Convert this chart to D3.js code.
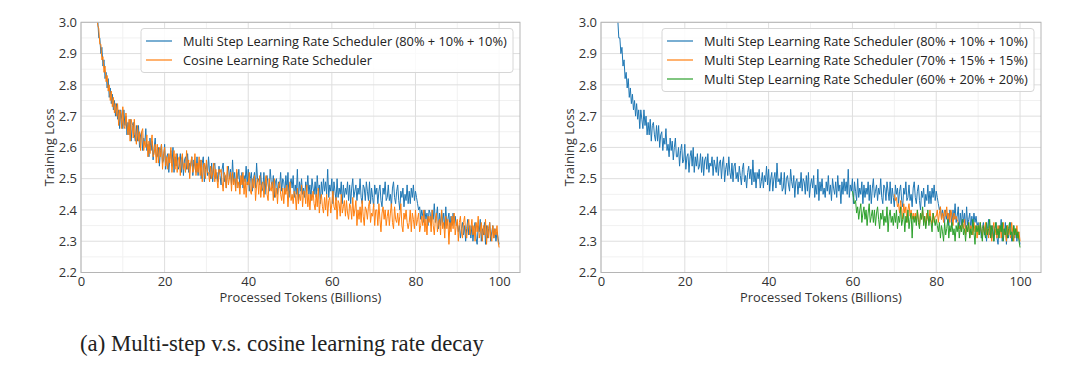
<!DOCTYPE html>
<html>
<head>
<meta charset="utf-8">
<script src="https://cdn.jsdelivr.net/npm/d3@7/dist/d3.min.js"></script>
<style>
  body { margin: 0; background: #fff; }
  svg { display: block; font-family: "Open Sans", sans-serif; }
</style>
</head>
<body>
<svg class="mz-chart" width="1080" height="372"></svg>
<script>
// training loss, one reading every 0.25B tokens
const step = 0.25;

const multiStep80Start = 3.5;
const multiStep80 = [
  3.09, 3.03, 3.01, 2.95, 2.95, 2.90, 2.92, 2.86, 2.88, 2.82, 2.84, 2.79, 2.82, 2.76, 2.79, 2.74, 2.77, 2.72, 2.75, 2.70,
  2.74, 2.69, 2.72, 2.66, 2.72, 2.69, 2.66, 2.72, 2.67, 2.70, 2.64, 2.68, 2.64, 2.69, 2.62, 2.67, 2.68, 2.64, 2.62, 2.67,
  2.62, 2.67, 2.60, 2.64, 2.65, 2.59, 2.63, 2.61, 2.66, 2.59, 2.61, 2.57, 2.63, 2.59, 2.62, 2.56, 2.60, 2.63, 2.57, 2.57,
  2.60, 2.54, 2.59, 2.61, 2.55, 2.56, 2.61, 2.53, 2.57, 2.58, 2.52, 2.57, 2.59, 2.54, 2.60, 2.52, 2.57, 2.54, 2.58, 2.53,
  2.54, 2.58, 2.52, 2.57, 2.51, 2.56, 2.57, 2.53, 2.58, 2.52, 2.55, 2.54, 2.57, 2.51, 2.56, 2.54, 2.52, 2.57, 2.51, 2.55,
  2.56, 2.50, 2.55, 2.57, 2.49, 2.53, 2.55, 2.51, 2.57, 2.52, 2.50, 2.55, 2.49, 2.54, 2.55, 2.50, 2.52, 2.49, 2.54, 2.51,
  2.48, 2.53, 2.55, 2.49, 2.51, 2.47, 2.52, 2.54, 2.50, 2.53, 2.48, 2.56, 2.49, 2.52, 2.47, 2.52, 2.50, 2.53, 2.47, 2.49,
  2.52, 2.47, 2.51, 2.49, 2.54, 2.48, 2.53, 2.46, 2.50, 2.52, 2.46, 2.50, 2.52, 2.47, 2.55, 2.49, 2.50, 2.48, 2.52, 2.46,
  2.47, 2.52, 2.45, 2.50, 2.51, 2.48, 2.46, 2.53, 2.49, 2.47, 2.51, 2.44, 2.49, 2.50, 2.45, 2.49, 2.47, 2.52, 2.46, 2.50,
  2.49, 2.45, 2.51, 2.46, 2.52, 2.44, 2.48, 2.50, 2.47, 2.51, 2.44, 2.48, 2.45, 2.53, 2.43, 2.49, 2.46, 2.50, 2.45, 2.47,
  2.44, 2.49, 2.46, 2.51, 2.45, 2.48, 2.43, 2.50, 2.47, 2.45, 2.49, 2.44, 2.51, 2.46, 2.48, 2.42, 2.49, 2.45, 2.50, 2.46,
  2.49, 2.45, 2.53, 2.44, 2.48, 2.46, 2.50, 2.42, 2.49, 2.46, 2.43, 2.50, 2.44, 2.47, 2.45, 2.49, 2.42, 2.48, 2.44, 2.47,
  2.45, 2.49, 2.43, 2.48, 2.42, 2.47, 2.50, 2.44, 2.46, 2.48, 2.43, 2.47, 2.45, 2.50, 2.44, 2.42, 2.48, 2.47, 2.43, 2.49,
  2.46, 2.43, 2.49, 2.42, 2.47, 2.44, 2.41, 2.48, 2.45, 2.47, 2.42, 2.46, 2.48, 2.43, 2.41, 2.47, 2.45, 2.49, 2.43, 2.44,
  2.48, 2.43, 2.45, 2.41, 2.47, 2.49, 2.44, 2.42, 2.46, 2.48, 2.43, 2.40, 2.46, 2.44, 2.47, 2.41, 2.45, 2.43, 2.48, 2.42,
  2.46, 2.42, 2.47, 2.44, 2.48, 2.43, 2.46, 2.44, 2.42, 2.40, 2.41, 2.37, 2.40, 2.38, 2.36, 2.40, 2.37, 2.39, 2.35, 2.40,
  2.39, 2.35, 2.40, 2.37, 2.42, 2.36, 2.38, 2.41, 2.34, 2.39, 2.35, 2.40, 2.36, 2.39, 2.34, 2.41, 2.35, 2.37, 2.39, 2.34,
  2.38, 2.35, 2.39, 2.36, 2.38, 2.35, 2.36, 2.33, 2.35, 2.31, 2.34, 2.36, 2.32, 2.35, 2.30, 2.34, 2.37, 2.32, 2.35, 2.31,
  2.35, 2.30, 2.34, 2.36, 2.31, 2.29, 2.35, 2.33, 2.37, 2.30, 2.34, 2.32, 2.36, 2.29, 2.35, 2.31, 2.34, 2.36, 2.30, 2.33,
  2.35, 2.31, 2.34, 2.30, 2.33, 2.31, 2.29
];

const cosineStart = 3.5;
const cosine = [
  3.08, 3.05, 2.99, 2.98, 2.93, 2.93, 2.88, 2.89, 2.84, 2.86, 2.81, 2.83, 2.78, 2.80, 2.75, 2.78, 2.73, 2.76, 2.71, 2.74,
  2.70, 2.74, 2.67, 2.72, 2.71, 2.66, 2.73, 2.67, 2.66, 2.71, 2.67, 2.64, 2.69, 2.62, 2.69, 2.67, 2.63, 2.69, 2.64, 2.61,
  2.67, 2.62, 2.65, 2.59, 2.65, 2.66, 2.59, 2.62, 2.60, 2.64, 2.57, 2.62, 2.58, 2.61, 2.64, 2.57, 2.58, 2.61, 2.55, 2.61,
  2.55, 2.60, 2.57, 2.61, 2.53, 2.58, 2.60, 2.54, 2.57, 2.53, 2.58, 2.55, 2.60, 2.52, 2.56, 2.59, 2.53, 2.58, 2.52, 2.56,
  2.57, 2.51, 2.56, 2.58, 2.53, 2.55, 2.52, 2.59, 2.53, 2.56, 2.50, 2.55, 2.57, 2.52, 2.53, 2.58, 2.51, 2.55, 2.52, 2.57,
  2.51, 2.56, 2.49, 2.54, 2.55, 2.50, 2.56, 2.52, 2.52, 2.49, 2.54, 2.50, 2.52, 2.55, 2.49, 2.53, 2.50, 2.47, 2.53, 2.52,
  2.53, 2.49, 2.46, 2.52, 2.51, 2.47, 2.54, 2.48, 2.50, 2.52, 2.46, 2.52, 2.48, 2.50, 2.46, 2.53, 2.47, 2.49, 2.45, 2.51,
  2.48, 2.52, 2.45, 2.50, 2.44, 2.49, 2.48, 2.52, 2.46, 2.45, 2.50, 2.47, 2.51, 2.43, 2.48, 2.50, 2.45, 2.51, 2.44, 2.48,
  2.49, 2.44, 2.48, 2.51, 2.45, 2.43, 2.50, 2.47, 2.46, 2.49, 2.43, 2.50, 2.44, 2.47, 2.42, 2.48, 2.49, 2.45, 2.43, 2.47,
  2.42, 2.47, 2.45, 2.48, 2.41, 2.46, 2.49, 2.43, 2.45, 2.42, 2.46, 2.45, 2.40, 2.47, 2.42, 2.45, 2.43, 2.48, 2.41, 2.46,
  2.46, 2.42, 2.48, 2.41, 2.45, 2.40, 2.45, 2.43, 2.46, 2.42, 2.40, 2.45, 2.41, 2.47, 2.39, 2.43, 2.45, 2.41, 2.39, 2.44,
  2.40, 2.45, 2.38, 2.43, 2.44, 2.39, 2.42, 2.46, 2.41, 2.40, 2.44, 2.37, 2.43, 2.42, 2.38, 2.45, 2.39, 2.41, 2.43, 2.38,
  2.43, 2.39, 2.37, 2.42, 2.41, 2.37, 2.44, 2.38, 2.40, 2.43, 2.35, 2.40, 2.37, 2.41, 2.36, 2.43, 2.38, 2.35, 2.41, 2.40,
  2.37, 2.41, 2.43, 2.36, 2.39, 2.38, 2.42, 2.35, 2.40, 2.40, 2.35, 2.42, 2.37, 2.33, 2.39, 2.41, 2.37, 2.40, 2.35, 2.38,
  2.40, 2.35, 2.39, 2.42, 2.36, 2.34, 2.41, 2.37, 2.36, 2.39, 2.35, 2.38, 2.42, 2.35, 2.33, 2.39, 2.37, 2.40, 2.36, 2.34,
  2.36, 2.40, 2.33, 2.39, 2.37, 2.34, 2.40, 2.35, 2.37, 2.39, 2.33, 2.35, 2.38, 2.35, 2.40, 2.33, 2.37, 2.32, 2.38, 2.36,
  2.38, 2.33, 2.40, 2.35, 2.32, 2.37, 2.39, 2.33, 2.36, 2.37, 2.32, 2.40, 2.34, 2.36, 2.31, 2.38, 2.34, 2.37, 2.29, 2.36,
  2.33, 2.38, 2.34, 2.39, 2.32, 2.35, 2.37, 2.30, 2.36, 2.38, 2.33, 2.31, 2.36, 2.38, 2.33, 2.31, 2.35, 2.37, 2.32, 2.34,
  2.37, 2.32, 2.35, 2.30, 2.36, 2.33, 2.38, 2.31, 2.33, 2.36, 2.30, 2.35, 2.32, 2.37, 2.29, 2.35, 2.31, 2.36, 2.32, 2.30,
  2.35, 2.31, 2.34, 2.32, 2.35, 2.30, 2.28
];

const multiStep70Start = 70;
const multiStep70 = [
  2.45, 2.43, 2.44, 2.41, 2.42, 2.39, 2.43, 2.40, 2.37, 2.42, 2.39, 2.41, 2.36, 2.40, 2.42, 2.38, 2.40, 2.37, 2.39, 2.37,
  2.39, 2.36, 2.40, 2.37, 2.35, 2.39, 2.37, 2.40, 2.36, 2.38, 2.35, 2.39, 2.37, 2.36, 2.40, 2.37, 2.35, 2.39, 2.36, 2.38,
  2.38, 2.40, 2.36, 2.39, 2.41, 2.37, 2.39, 2.36, 2.40, 2.38, 2.41, 2.37, 2.39, 2.36, 2.40, 2.38, 2.35, 2.39, 2.37, 2.38,
  2.37, 2.36, 2.34, 2.35, 2.33, 2.36, 2.34, 2.37, 2.32, 2.35, 2.33, 2.36, 2.31, 2.35, 2.34, 2.32, 2.36, 2.33, 2.35, 2.31,
  2.35, 2.32, 2.36, 2.33, 2.31, 2.35, 2.33, 2.36, 2.32, 2.34, 2.31, 2.35, 2.33, 2.30, 2.34, 2.36, 2.32, 2.34, 2.31, 2.35,
  2.32, 2.35, 2.31, 2.34, 2.36, 2.32, 2.33, 2.30, 2.35, 2.32, 2.34, 2.31, 2.36, 2.33, 2.30, 2.34, 2.32, 2.35, 2.31, 2.33,
  2.30
];

const multiStep60Start = 60;
const multiStep60 = [
  2.46, 2.44, 2.42, 2.43, 2.39, 2.41, 2.37, 2.40, 2.42, 2.36, 2.39, 2.41, 2.37, 2.40, 2.35, 2.39, 2.42, 2.36, 2.38, 2.40,
  2.36, 2.40, 2.35, 2.39, 2.41, 2.37, 2.34, 2.39, 2.37, 2.40, 2.35, 2.38, 2.36, 2.41, 2.33, 2.38, 2.40, 2.36, 2.38, 2.35,
  2.39, 2.36, 2.40, 2.34, 2.38, 2.36, 2.41, 2.35, 2.37, 2.39, 2.33, 2.38, 2.36, 2.40, 2.34, 2.37, 2.39, 2.31, 2.38, 2.36,
  2.38, 2.35, 2.40, 2.36, 2.34, 2.39, 2.37, 2.41, 2.35, 2.38, 2.34, 2.37, 2.40, 2.35, 2.38, 2.36, 2.33, 2.39, 2.37, 2.35,
  2.37, 2.35, 2.33, 2.36, 2.31, 2.35, 2.33, 2.30, 2.36, 2.32, 2.34, 2.37, 2.31, 2.35, 2.33, 2.36, 2.32, 2.34, 2.30, 2.35,
  2.33, 2.36, 2.31, 2.35, 2.33, 2.37, 2.32, 2.34, 2.30, 2.35, 2.33, 2.36, 2.31, 2.34, 2.32, 2.37, 2.33, 2.29, 2.35, 2.33,
  2.35, 2.32, 2.36, 2.33, 2.30, 2.35, 2.33, 2.31, 2.36, 2.32, 2.34, 2.37, 2.31, 2.35, 2.33, 2.30, 2.34, 2.36, 2.32, 2.34,
  2.31, 2.35, 2.33, 2.36, 2.30, 2.34, 2.32, 2.35, 2.31, 2.34, 2.36, 2.32, 2.33, 2.30, 2.35, 2.32, 2.34, 2.31, 2.33, 2.30,
  2.28
];

const xTicks = [0, 20, 40, 60, 80, 100];
const yTicks = [2.2, 2.3, 2.4, 2.5, 2.6, 2.7, 2.8, 2.9, 3.0];
const xMinorTicks = [10, 30, 50, 70, 90];
const yMinorTicks = [2.25, 2.35, 2.45, 2.55, 2.65, 2.75, 2.85, 2.95];
const xDomain = [0, 105];
const yDomain = [2.2, 3.0];

const label80 = "Multi Step Learning Rate Scheduler (80% + 10% + 10%)";
const label70 = "Multi Step Learning Rate Scheduler (70% + 15% + 15%)";
const label60 = "Multi Step Learning Rate Scheduler (60% + 20% + 20%)";
const labelCosine = "Cosine Learning Rate Scheduler";
const xTitle = "Processed Tokens (Billions)";
const yTitle = "Training Loss";
const caption = "(a) Multi-step v.s. cosine learning rate decay";

const plotTop = 22.3;
const plotBottom = 272.5;
const $root = d3.select(".mz-chart");

const blue = "#1f77b4";
const orange = "#ff7f0e";
const green = "#2ca02c";

const panels = [
  {
    left: 81,
    right: 520,
    series: [
      { label: label80, start: multiStep80Start, values: multiStep80, color: blue },
      { label: labelCosine, start: cosineStart, values: cosine, color: orange },
    ],
  },
  {
    left: 601,
    right: 1041,
    series: [
      { label: label80, start: multiStep80Start, values: multiStep80, color: blue },
      { label: label70, start: multiStep70Start, values: multiStep70, color: orange },
      { label: label60, start: multiStep60Start, values: multiStep60, color: green },
    ],
  },
];

function fitText($text, width) {
  const size = parseFloat($text.style("font-size"));
  const len = $text.node().getComputedTextLength();
  $text.style("font-size", (size * width) / len + "px");
}

panels.forEach((p, pi) => {
  const xScale = d3.scaleLinear().domain(xDomain).range([p.left, p.right]);
  const yScale = d3.scaleLinear().domain(yDomain).range([plotBottom, plotTop]);
  const $panel = $root.append("g").classed("mz-chart__panel", true);

  // grid, faint minor lines first
  const $grid = $panel.append("g").attr("fill", "none");
  $grid
    .selectAll(".minor-x")
    .data(xMinorTicks)
    .enter()
    .append("line")
    .attr("x1", (d) => xScale(d))
    .attr("x2", (d) => xScale(d))
    .attr("y1", plotTop)
    .attr("y2", plotBottom)
    .attr("stroke", "#f1f1f1");
  $grid
    .selectAll(".minor-y")
    .data(yMinorTicks)
    .enter()
    .append("line")
    .attr("x1", p.left)
    .attr("x2", p.right)
    .attr("y1", (d) => yScale(d))
    .attr("y2", (d) => yScale(d))
    .attr("stroke", "#f1f1f1");
  $grid
    .selectAll(".major-x")
    .data(xTicks)
    .enter()
    .append("line")
    .attr("x1", (d) => xScale(d))
    .attr("x2", (d) => xScale(d))
    .attr("y1", plotTop)
    .attr("y2", plotBottom)
    .attr("stroke", "#dedede");
  $grid
    .selectAll(".major-y")
    .data(yTicks)
    .enter()
    .append("line")
    .attr("x1", p.left)
    .attr("x2", p.right)
    .attr("y1", (d) => yScale(d))
    .attr("y2", (d) => yScale(d))
    .attr("stroke", "#dedede");

  $root
    .append("clipPath")
    .attr("id", "clip" + pi)
    .append("rect")
    .attr("x", p.left)
    .attr("y", plotTop)
    .attr("width", p.right - p.left)
    .attr("height", plotBottom - plotTop);

  const line = (s) =>
    d3
      .line()
      .x((d, i) => xScale(s.start + i * step))
      .y((d) => yScale(d))(s.values);

  $panel
    .append("g")
    .attr("clip-path", `url(#clip${pi})`)
    .selectAll("path")
    .data(p.series)
    .enter()
    .append("path")
    .attr("d", line)
    .attr("fill", "none")
    .attr("stroke", (d) => d.color)
    .attr("stroke-width", 1)
    .attr("stroke-linejoin", "round");

  $panel
    .append("rect")
    .attr("x", p.left)
    .attr("y", plotTop)
    .attr("width", p.right - p.left)
    .attr("height", plotBottom - plotTop)
    .attr("fill", "none")
    .attr("stroke", "#b5b5b5")
    .attr("stroke-width", 1);

  const xAxis = d3.axisBottom(xScale).tickValues(xTicks).tickSize(0).tickPadding(4);
  const $xAxis = $panel.append("g").attr("transform", `translate(0, ${plotBottom})`).call(xAxis);
  const yAxis = d3
    .axisLeft(yScale)
    .tickValues(yTicks)
    .tickSize(0)
    .tickPadding(4)
    .tickFormat(d3.format(".1f"));
  const $yAxis = $panel.append("g").attr("transform", `translate(${p.left}, 0)`).call(yAxis);
  [$xAxis, $yAxis].forEach(($a) => {
    $a.select(".domain").remove();
    $a.selectAll("text")
      .attr("fill", "#333")
      .style("font-family", "Open Sans")
      .style("font-size", "13px");
  });

  const $xTitle = $panel
    .append("text")
    .attr("x", (p.left + p.right) / 2)
    .attr("y", 302)
    .attr("text-anchor", "middle")
    .attr("fill", "#333")
    .style("font-size", "13px")
    .text(xTitle);
  fitText($xTitle, 162);

  const $yTitle = $panel
    .append("text")
    .attr("transform", `translate(${p.left - 27}, ${(plotTop + plotBottom) / 2}) rotate(-90)`)
    .attr("text-anchor", "middle")
    .attr("fill", "#333")
    .style("font-size", "13px")
    .text(yTitle);
  fitText($yTitle, 78);

  // legend, upper right
  const boxW = 372;
  const boxX = p.right - 7 - boxW;
  const boxY = 28.5;
  const $legend = $panel.append("g").attr("transform", `translate(${boxX}, ${boxY})`);
  $legend
    .append("rect")
    .attr("width", boxW)
    .attr("height", p.series.length * 19 + 6)
    .attr("rx", 3)
    .attr("fill", "#fff")
    .attr("fill-opacity", 0.85)
    .attr("stroke", "#d6d6d6");
  const $items = $legend
    .selectAll(".mz-chart__legend-item")
    .data(p.series)
    .enter()
    .append("g")
    .attr("transform", (d, i) => `translate(0, ${12.5 + i * 19})`);
  $items
    .append("line")
    .attr("x1", 5)
    .attr("x2", 31)
    .attr("stroke", (d) => d.color)
    .attr("stroke-width", 1.2);
  $items
    .append("text")
    .attr("x", 42)
    .attr("dy", "0.35em")
    .attr("fill", "#222")
    .style("font-size", "13px")
    .text((d) => d.label)
    .each(function (d) {
      if (d.label !== labelCosine) fitText(d3.select(this), 324);
    });
  // the short cosine label keeps the size of its neighbour
  const legendSize = $legend.select("text").style("font-size");
  $items
    .selectAll("text")
    .filter((d) => d.label === labelCosine)
    .style("font-size", legendSize);
});

const $caption = $root
  .append("text")
  .attr("x", 80)
  .attr("y", 351)
  .attr("fill", "#222")
  .style("font-family", "'Liberation Serif', serif")
  .style("font-size", "21px")
  .text(caption);
fitText($caption, 404);
</script>
</body>
</html>
